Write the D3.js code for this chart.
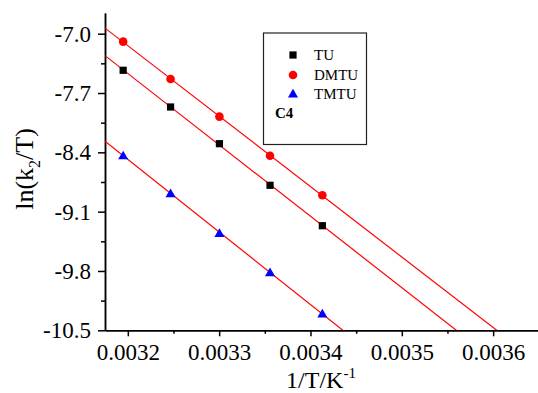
<!DOCTYPE html>
<html>
<head>
<meta charset="utf-8">
<script src="https://cdn.jsdelivr.net/npm/d3@7"></script>
<style>
  body { margin: 0; background: #fff; }
  svg { display: block; font-family: "Liberation Serif", "Times New Roman", serif; }
  .axis path, .axis line { stroke: #000; stroke-width: 1.5px; }
  .axis text { font-family: "Liberation Serif", "Times New Roman", serif; font-size: 23px; fill: #000; }
</style>
</head>
<body>
<svg id="chart"></svg>
<script>
var width = 538;
var height = 393;
var margin = {top: 13, right: 0, bottom: 63, left: 105};

// 1/T for T = 313, 308, 303, 298, 293 K
var invT = [0.0031949, 0.0032468, 0.0033003, 0.0033557, 0.0034130];

// ln(k2/T)
var seriesNames = ["TU", "DMTU", "TMTU"];
var tuValues   = [-7.432, -7.865, -8.298, -8.789, -9.266];
var dmtuValues = [-7.094, -7.535, -7.979, -8.440, -8.907];
var tmtuValues = [-8.437, -8.883, -9.352, -9.816, -10.304];

var xMajorTicks = [0.0032, 0.0033, 0.0034, 0.0035, 0.0036];
var xMinorTicks = [0.00325, 0.00335, 0.00345, 0.00355, 0.00365];
var yMajorTicks = [-7.0, -7.7, -8.4, -9.1, -9.8, -10.5];
var yMinorTicks = [-7.35, -8.05, -8.75, -9.45, -10.15];

var series = [
  {name: "TU", values: tuValues, color: "#000000", shape: d3.symbolSquare, size: 52},
  {name: "DMTU", values: dmtuValues, color: "#ff0000", shape: d3.symbolCircle, size: 58},
  {name: "TMTU", values: tmtuValues, color: "#0000ff", shape: d3.symbolTriangle, size: 44}
];

var svg = d3.select("#chart")
  .attr("width", width)
  .attr("height", height);

var x = d3.scaleLinear()
  .domain([0.003175, 0.00365])
  .range([margin.left, margin.left + 433.8]);

var y = d3.scaleLinear()
  .domain([-10.5, -6.756])
  .range([330.3, margin.top]);

// clip so the fitted lines stop at the axes
svg.append("clipPath").attr("id", "plotclip")
  .append("rect")
  .attr("x", x.range()[0])
  .attr("y", y.range()[1])
  .attr("width", x.range()[1] - x.range()[0])
  .attr("height", y.range()[0] - y.range()[1]);

// minor ticks first, then major axes on top
svg.append("g")
  .attr("class", "axis")
  .attr("transform", "translate(0," + y(-10.5) + ")")
  .call(d3.axisBottom(x).tickValues(xMinorTicks).tickSize(3.5).tickSizeOuter(0).tickFormat(""));

svg.append("g")
  .attr("class", "axis")
  .attr("transform", "translate(" + x.range()[0] + ",0)")
  .call(d3.axisLeft(y).tickValues(yMinorTicks).tickSize(4).tickSizeOuter(0).tickFormat(""));

svg.append("g")
  .attr("class", "axis")
  .attr("transform", "translate(0," + y(-10.5) + ")")
  .call(d3.axisBottom(x).tickValues(xMajorTicks).tickSize(6).tickSizeOuter(0).tickPadding(7)
    .tickFormat(function(d) { return d.toFixed(4); }));

svg.append("g")
  .attr("class", "axis")
  .attr("transform", "translate(" + x.range()[0] + ",0)")
  .call(d3.axisLeft(y).tickValues(yMajorTicks).tickSize(7).tickSizeOuter(0).tickPadding(7)
    .tickFormat(function(d) { return d.toFixed(1); }));

// least squares fit for each series
function fit(values) {
  var mx = d3.mean(invT), my = d3.mean(values);
  var sxy = 0, sxx = 0;
  invT.forEach(function(t, i) {
    sxy += (t - mx) * (values[i] - my);
    sxx += (t - mx) * (t - mx);
  });
  var b = sxy / sxx;
  return {slope: b, intercept: my - b * mx};
}

var lines = svg.append("g").attr("clip-path", "url(#plotclip)");
series.forEach(function(s) {
  var f = fit(s.values);
  var x0 = x.domain()[0], x1 = x.domain()[1];
  lines.append("line")
    .attr("x1", x(x0))
    .attr("y1", y(f.intercept + f.slope * x0))
    .attr("x2", x(x1))
    .attr("y2", y(f.intercept + f.slope * x1))
    .style("stroke", "#ff0000")
    .style("stroke-width", 1.2);
});

// data points
series.forEach(function(s) {
  svg.append("g").selectAll("path")
    .data(s.values)
    .enter().append("path")
    .attr("d", d3.symbol().type(s.shape).size(s.size))
    .attr("transform", function(d, i) {
      var dy = s.shape === d3.symbolTriangle ? 1 : 0;
      return "translate(" + x(invT[i]) + "," + (y(d) + dy) + ")";
    })
    .style("fill", s.color);
});

// legend box
var legend = svg.append("g").attr("transform", "translate(263.5,33)");
legend.append("rect")
  .attr("width", 103)
  .attr("height", 111.5)
  .style("fill", "none")
  .style("stroke", "#222")
  .style("stroke-width", 1.2);

var rowY = [22, 42, 60.5];
series.forEach(function(s, i) {
  legend.append("path")
    .attr("d", d3.symbol().type(s.shape).size(s.size))
    .attr("transform", "translate(29.5," + (rowY[i] + (s.shape === d3.symbolTriangle ? 1 : 0)) + ")")
    .style("fill", s.color);
  legend.append("text")
    .attr("x", 50.5)
    .attr("y", rowY[i])
    .attr("dy", "0.35em")
    .style("font-size", "15px")
    .text(seriesNames[i]);
});
legend.append("text")
  .attr("x", 11.5)
  .attr("y", 80)
  .attr("dy", "0.35em")
  .style("font-size", "15px")
  .style("font-weight", "bold")
  .text("C4");

// axis titles
var xt = svg.append("text")
  .attr("x", 321)
  .attr("y", 388)
  .style("text-anchor", "middle")
  .style("font-size", "24px");
xt.append("tspan").text("1/T/K");
xt.append("tspan").attr("dy", -10).style("font-size", "15px").text("-1");

var yt = svg.append("text")
  .attr("transform", "translate(33,169) rotate(-90)")
  .style("text-anchor", "middle")
  .style("font-size", "26px");
yt.append("tspan").text("ln(k");
yt.append("tspan").attr("dy", 7).style("font-size", "16px").text("2");
yt.append("tspan").attr("dy", -7).text("/T)");
</script>
</body>
</html>
